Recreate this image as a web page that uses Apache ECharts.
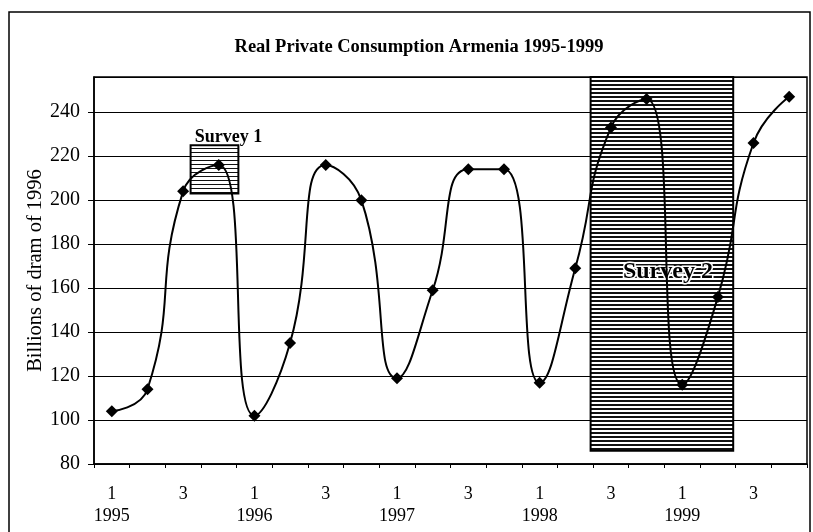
<!DOCTYPE html>
<html>
<head>
<meta charset="utf-8">
<script src="https://cdn.jsdelivr.net/npm/echarts@6/dist/echarts.min.js"></script>
<style>
  html, body { margin: 0; padding: 0; background: #fff; }
  #chart { width: 813px; height: 532px; }
</style>
</head>
<body>
<div id="chart"></div>
<script>
// quarterly data 1995-1999, billions of dram of 1996
const years = [1995, 1996, 1997, 1998, 1999];
const quarterTicks = ["1", "", "3", ""];
const consumption = [
  104, 114, 204, 216,
  102, 135, 216, 200,
  119, 159, 214, 214,
  117, 169, 233, 246,
  116, 156, 226, 247
];
// survey periods, in quarter positions (0 = start of 1995 Q1)
const survey1 = { name: "Survey 1", from: 2.71, to: 4.05, low: 203, high: 225 };
const survey2 = { name: "Survey 2", from: 13.93, to: 17.93, low: 86, high: 256 };

const categories = [];
years.forEach(y => quarterTicks.forEach((q, i) => categories.push(y + "-" + (i + 1))));

function hatch(lineH, gapH) {
  const c = document.createElement("canvas");
  c.width = 8;
  c.height = lineH + gapH;
  const ctx = c.getContext("2d");
  ctx.fillStyle = "#fff";
  ctx.fillRect(0, 0, c.width, c.height);
  ctx.fillStyle = "#111";
  ctx.fillRect(0, 0, c.width, lineH);
  return c;
}

const serif = "'Liberation Serif', 'DejaVu Serif', serif";
let chart = echarts.init(document.getElementById("chart"));
chart.setOption({
  animation: false,
  backgroundColor: "#fff",
  title: {
    text: "Real Private Consumption Armenia 1995-1999",
    left: 414,
    textAlign: "center",
    top: 33,
    textStyle: { fontFamily: serif, fontSize: 18.5, fontWeight: "bold", color: "#000" }
  },
  graphic: [
    {
      type: "rect",
      shape: { x: 9, y: 12, width: 801, height: 530 },
      style: { fill: null, stroke: "#000", lineWidth: 1.5 },
      silent: true
    }
  ],
  grid: {
    left: 94, right: 6, top: 77, bottom: 68,
    show: true, borderColor: "#000", borderWidth: 1.5, backgroundColor: "#fff"
  },
  xAxis: [
    {
      type: "category",
      data: categories,
      boundaryGap: true,
      axisLine: { lineStyle: { color: "#000", width: 1.5 } },
      axisTick: { show: true, inside: false, length: 4, interval: 0, lineStyle: { color: "#000" } },
      axisLabel: {
        interval: 0,
        margin: 19,
        lineHeight: 22,
        fontFamily: serif,
        fontSize: 18,
        color: "#000",
        formatter: (v, i) => {
          const q = quarterTicks[i % 4];
          if (i % 4 === 0) return q + "\n" + years[Math.floor(i / 4)];
          return q;
        }
      }
    },
    { type: "value", min: 0, max: 20, show: false }
  ],
  yAxis: {
    type: "value",
    min: 80,
    max: 256,
    interval: 20,
    name: "Billions of dram of 1996",
    nameLocation: "middle",
    nameGap: 48,
    nameMoveOverlap: false,
    nameTextStyle: { fontFamily: serif, fontSize: 20.5, color: "#000" },
    axisLine: { show: true, lineStyle: { color: "#000", width: 1.5 } },
    axisTick: { show: true, length: 6, lineStyle: { color: "#000" } },
    axisLabel: {
      showMaxLabel: false,
      margin: 14,
      fontFamily: serif,
      fontSize: 20,
      color: "#000"
    },
    splitLine: { lineStyle: { color: "#000", width: 1.2 } }
  },
  series: [
    {
      type: "line",
      xAxisIndex: 1,
      data: [],
      silent: true,
      markArea: {
        silent: true,
        data: [
          [
            {
              name: survey2.name,
              xAxis: survey2.from, yAxis: survey2.low,
              itemStyle: { color: { image: hatch(2, 2), repeat: "repeat" }, borderColor: "#000", borderWidth: 2 },
              label: {
                position: "inside",
                offset: [6, 8],
                fontFamily: serif, fontSize: 24, fontWeight: "bold", color: "#000",
                textBorderColor: "#fff", textBorderWidth: 3
              }
            },
            { xAxis: survey2.to, yAxis: survey2.high }
          ],
          [
            {
              name: survey1.name,
              xAxis: survey1.from, yAxis: survey1.low,
              itemStyle: { color: { image: hatch(1, 3), repeat: "repeat" }, borderColor: "#000", borderWidth: 2 },
              label: {
                position: "top",
                distance: -2,
                offset: [14, 0],
                fontFamily: serif, fontSize: 18, fontWeight: "bold", color: "#000"
              }
            },
            { xAxis: survey1.to, yAxis: survey1.high }
          ]
        ]
      }
    },
    {
      name: "Real private consumption",
      type: "line",
      data: consumption,
      smooth: 0.5,
      symbol: "diamond",
      symbolSize: 12,
      lineStyle: { color: "#000", width: 2 },
      itemStyle: { color: "#000" },
      z: 5
    }
  ]
});
</script>
</body>
</html>
